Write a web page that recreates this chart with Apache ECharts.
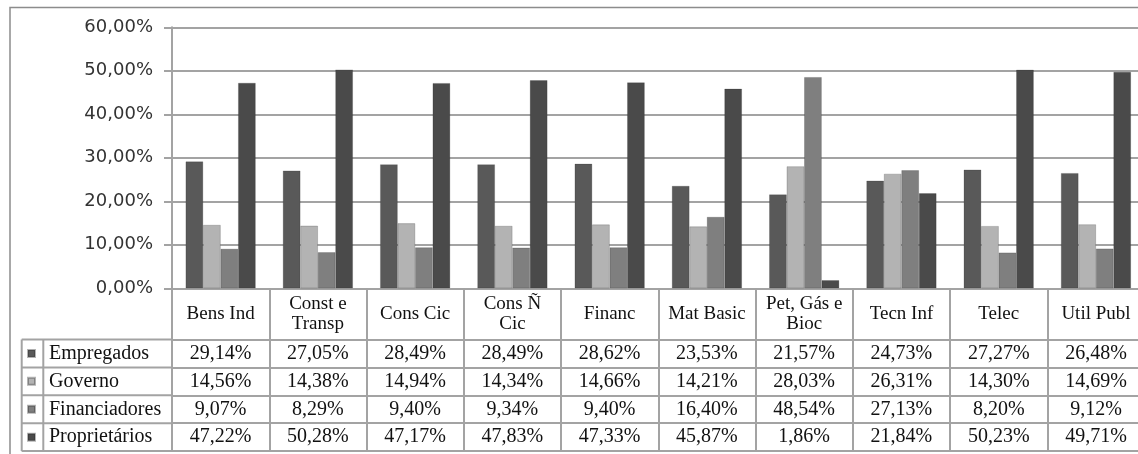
<!DOCTYPE html>
<html><head><meta charset="utf-8">
<script src="https://cdn.jsdelivr.net/npm/echarts@6/dist/echarts.min.js"></script>
<style>html,body{margin:0;padding:0;background:#fff}#c{width:1138px;height:454px}</style>
</head><body><div id="c"></div>
<script>
// ---- data ----
const categories = ['Bens Ind', 'Const e\nTransp', 'Cons Cic', 'Cons Ñ\nCic', 'Financ', 'Mat Basic', 'Pet, Gás e\nBioc', 'Tecn Inf', 'Telec', 'Util Publ'];
const seriesNames = ['Empregados', 'Governo', 'Financiadores', 'Proprietários'];
const empregados    = [29.14, 27.05, 28.49, 28.49, 28.62, 23.53, 21.57, 24.73, 27.27, 26.48];
const governo       = [14.56, 14.38, 14.94, 14.34, 14.66, 14.21, 28.03, 26.31, 14.30, 14.69];
const financiadores = [9.07, 8.29, 9.40, 9.34, 9.40, 16.40, 48.54, 27.13, 8.20, 9.12];
const proprietarios = [47.22, 50.28, 47.17, 47.83, 47.33, 45.87, 1.86, 21.84, 50.23, 49.71];
const yMin = 0, yMax = 60, yStep = 10;

// ---- styling / layout ----
const seriesData = [empregados, governo, financiadores, proprietarios];
const colors = ['#595959', '#b3b3b3', '#7f7f7f', '#4a4a4a'];
const lineCol = '#a3a3a3';
const serif = 'Liberation Serif';
const txtCol = '#111';
const W = 1138;
const gridLeft = 172, gridTop = 27.3, axisY = 288.3;
const catW = 97.26;
const gridWidth = categories.length * catW;
const headerH = 51.2, rowH = 27.9;
const tableBottom = axisY + headerH + rowH * 4;
const fmt = v => v.toFixed(2).replace('.', ',') + '%';

const xAxes = [{
  type: 'category', data: categories, position: 'bottom', gridIndex: 0,
  axisLine: { show: true, lineStyle: { color: lineCol, width: 2 } },
  axisTick: { show: true, interval: 0, length: tableBottom - axisY, lineStyle: { color: lineCol, width: 2 } },
  axisLabel: { interval: 0, margin: headerH / 2, verticalAlign: 'middle', fontFamily: serif, fontSize: 19, lineHeight: 20, color: txtCol }
}];
seriesData.forEach((arr, i) => {
  xAxes.push({
    type: 'category', data: categories, position: 'bottom', gridIndex: 0,
    offset: headerH + i * rowH,
    axisLine: { show: true, lineStyle: { color: lineCol, width: 2 } },
    axisTick: { show: false },
    axisLabel: { interval: 0, margin: rowH / 2, verticalAlign: 'middle', fontFamily: serif, fontSize: 20, color: txtCol,
      formatter: (v, idx) => fmt(arr[idx]) }
  });
});
xAxes.push({
  type: 'category', data: categories, position: 'bottom', gridIndex: 0,
  offset: headerH + 4 * rowH,
  axisLine: { show: true, lineStyle: { color: lineCol, width: 2 } },
  axisTick: { show: false }, axisLabel: { show: false }
});

const legends = seriesNames.map((n, i) => ({
  data: [n], left: 27, top: axisY + headerH + i * rowH, padding: 0, itemGap: 0,
  icon: 'rect', itemWidth: 7, itemHeight: 7, selectedMode: false,
  textStyle: { fontFamily: serif, fontSize: 20, color: txtCol, lineHeight: rowH, padding: [0, 0, 0, 9] }
}));

const graphics = [
  { type: 'rect', shape: { x: 10, y: 7.5, width: W + 20, height: 470 }, style: { fill: 'none', stroke: '#8c8c8c', lineWidth: 1.5 }, silent: true }
];
for (let i = 0; i <= 4; i++) {
  const y = axisY + headerH + i * rowH;
  graphics.push({ type: 'line', shape: { x1: 21.7, y1: y, x2: gridLeft, y2: y }, style: { stroke: lineCol, lineWidth: 2 }, silent: true });
}
[21.7, 43.3].forEach(x => graphics.push({ type: 'line', shape: { x1: x, y1: axisY + headerH, x2: x, y2: tableBottom }, style: { stroke: lineCol, lineWidth: 2 }, silent: true }));

const chart = echarts.init(document.getElementById('c'), null, { renderer: 'canvas' });
chart.setOption({
  animation: false,
  backgroundColor: '#fff',
  color: colors,
  grid: { left: gridLeft, top: gridTop, width: gridWidth, height: axisY - gridTop, containLabel: false, outerBoundsMode: 'none' },
  legend: legends,
  xAxis: xAxes,
  yAxis: {
    type: 'value', min: yMin, max: yMax, interval: yStep,
    axisLine: { show: true, lineStyle: { color: lineCol, width: 2 } },
    axisTick: { show: true, length: 8, lineStyle: { color: lineCol, width: 2 } },
    splitLine: { show: true, lineStyle: { color: lineCol, width: 2 } },
    axisLabel: { margin: 19, fontFamily: 'DejaVu Sans', fontSize: 18, color: '#333', formatter: v => fmt(v) }
  },
  series: seriesNames.map((n, i) => ({
    name: n, type: 'bar', xAxisIndex: 0, data: seriesData[i],
    barWidth: 17.5, barGap: '0%',
    itemStyle: { color: colors[i], borderColor: 'rgba(40,40,40,0.35)', borderWidth: 0.6 }
  })),
  graphic: graphics
});
</script></body></html>
